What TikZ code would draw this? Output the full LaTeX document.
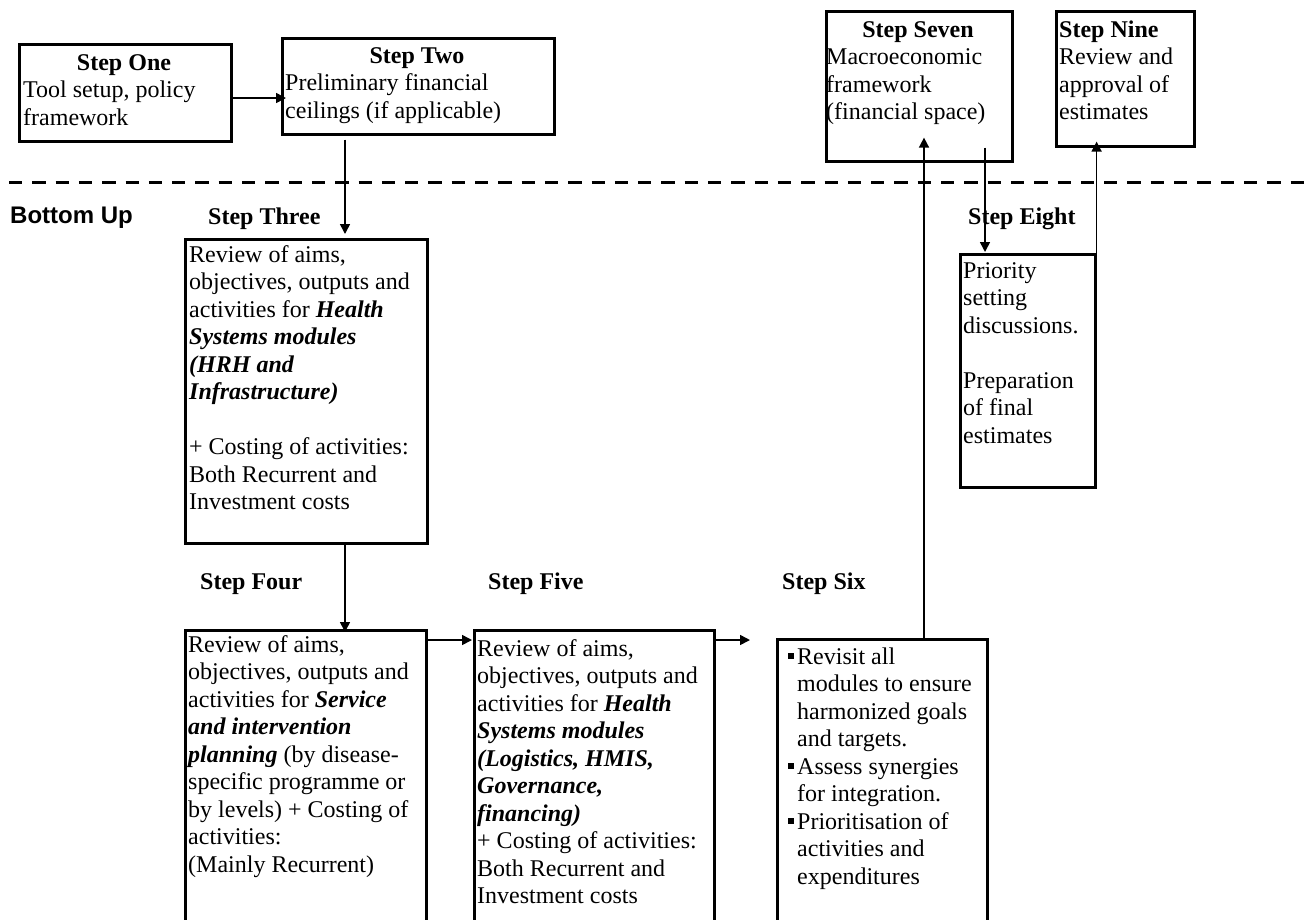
\documentclass[tikz,border=0pt]{standalone}
\usepackage{fontspec}
\setmainfont{Liberation Serif}
\newfontfamily\arialfont{Liberation Sans}
\usetikzlibrary{arrows.meta}
\newcommand{\bfit}[1]{\textbf{\textit{#1}}}
\newcommand{\sqbul}{\makebox[9pt][l]{\rule[5.5pt]{6pt}{6pt}}}
\begin{document}
\begin{tikzpicture}[x=1pt,y=-1pt,
  box/.style={draw, line width=2.6pt, anchor=north west, inner sep=0pt},
  txt/.style={inner sep=0pt, anchor=base west, font=\fontsize{24}{27.5}\selectfont},
  ttl/.style={inner sep=0pt, anchor=base, font=\fontsize{24}{27.5}\selectfont\bfseries},
  lbl/.style={inner sep=0pt, anchor=base west, font=\fontsize{24}{27.5}\selectfont\bfseries},
  arr/.style={line width=1.6pt, -{Triangle[length=10pt,width=10pt]}},
  sep/.style={line width=3pt, dash pattern=on 13.3pt off 10pt}]
\clip (0,0) rectangle (1311,919);
\fill[white] (0,0) rectangle (1311,919);

% separator
\coordinate (dl) at (9,182);
\coordinate (dr) at (1306,182);
\draw[sep] (dl) -- (dr);
\node[inner sep=0pt, anchor=base west, font=\arialfont\bfseries\fontsize{24}{27.5}\selectfont] (bu) at (10,223) {Bottom Up};

% boxes
\node[box, minimum width=212pt, minimum height=97pt] (s1) at (18,43) {};
\node[box, minimum width=272pt, minimum height=96pt] (s2) at (281,37) {};
\node[box, minimum width=242pt, minimum height=304pt] (s3) at (184,238) {};
\node[box, minimum width=241pt, minimum height=320pt] (s4) at (184,629) {};
\node[box, minimum width=240pt, minimum height=320pt] (s5) at (473,629) {};
\node[box, minimum width=210pt, minimum height=320pt] (s6) at (776,638) {};
\node[box, minimum width=186pt, minimum height=150pt] (s7) at (825,10) {};
\node[box, minimum width=135pt, minimum height=233pt] (s8) at (959,253) {};
\node[box, minimum width=138pt, minimum height=135pt] (s9) at (1055,10) {};

% texts
\node[ttl] (t1h) at (124,70) {Step One};
\node[txt] (t1) at (23,97.5) {\parbox[t]{300pt}{Tool setup, policy\\framework}};
\node[ttl] (t2h) at (417,63) {Step Two};
\node[txt] (t2) at (285,90.5) {\parbox[t]{300pt}{Preliminary financial\\ceilings (if applicable)}};
\node[lbl] (l3) at (208,224) {Step Three};
\node[txt] (t3) at (189,262) {\parbox[t]{300pt}{Review of aims,\\objectives, outputs and\\activities for \bfit{Health}\\\bfit{Systems modules}\\\bfit{(HRH and}\\\bfit{Infrastructure)}\\[27.5pt]+ Costing of activities:\\Both Recurrent and\\Investment costs}};
\node[lbl] (l4) at (200,589) {Step Four};
\node[txt] (t4) at (188,652) {\parbox[t]{300pt}{Review of aims,\\objectives, outputs and\\activities for \bfit{Service}\\\bfit{and intervention}\\\bfit{planning} (by disease-\\specific programme or\\by levels) + Costing of\\activities:\\(Mainly Recurrent)}};
\node[lbl] (l5) at (488,589) {Step Five};
\node[txt] (t5) at (477,656) {\parbox[t]{300pt}{Review of aims,\\objectives, outputs and\\activities for \bfit{Health}\\\bfit{Systems modules}\\\bfit{(Logistics, HMIS,}\\\bfit{Governance,}\\\bfit{financing)}\\+ Costing of activities:\\Both Recurrent and\\Investment costs}};
\node[lbl] (l6) at (782,589) {Step Six};
\node[txt] (t6) at (788,664) {\parbox[t]{300pt}{\sqbul Revisit all\\\hspace*{9pt}modules to ensure\\\hspace*{9pt}harmonized goals\\\hspace*{9pt}and targets.\\\sqbul Assess synergies\\\hspace*{9pt}for integration.\\\sqbul Prioritisation of\\\hspace*{9pt}activities and\\\hspace*{9pt}expenditures}};
\node[ttl] (t7h) at (918,37) {Step Seven};
\node[txt] (t7) at (826,64.5) {\parbox[t]{300pt}{Macroeconomic\\framework\\(financial space)}};
\node[lbl] (l8) at (968,224) {Step Eight};
\node[txt] (t8) at (963,278) {\parbox[t]{300pt}{Priority\\setting\\discussions.\\[27.5pt]Preparation\\of final\\estimates}};
\node[txt] (t9) at (1059,37) {\parbox[t]{300pt}{\textbf{Step Nine}\\Review and\\approval of\\estimates}};

% connectors
\coordinate (c12) at (0,98);
\coordinate (x23) at (345,0);
\coordinate (y45) at (0,640);
\coordinate (x67) at (924,0);
\coordinate (x78) at (985,0);
\draw[arr] (s1.east |- c12) -- ([xshift=5pt]s2.west |- c12);
\draw[arr] ([yshift=-4pt]s2.south -| x23) -- ([yshift=4pt]s3.north -| x23);
\draw[arr] (s3.south -| x23) -- ([yshift=-3pt]s4.north -| x23);
\draw[arr] (s4.east |- y45) -- ([xshift=-1pt]s5.west |- y45);
\draw[arr] (s5.east |- y45) -- ([xshift=-26pt]s6.west |- y45);
\draw[arr] (s6.north -| x67) -- ([yshift=25pt]s7.south -| x67);
\draw[arr] ([yshift=15pt]s7.south -| x78) -- ([yshift=1pt]s8.north -| x78);
\draw[arr] (s8.north east) -- ([yshift=6pt]s9.south -| s8.north east);
\end{tikzpicture}
\end{document}
